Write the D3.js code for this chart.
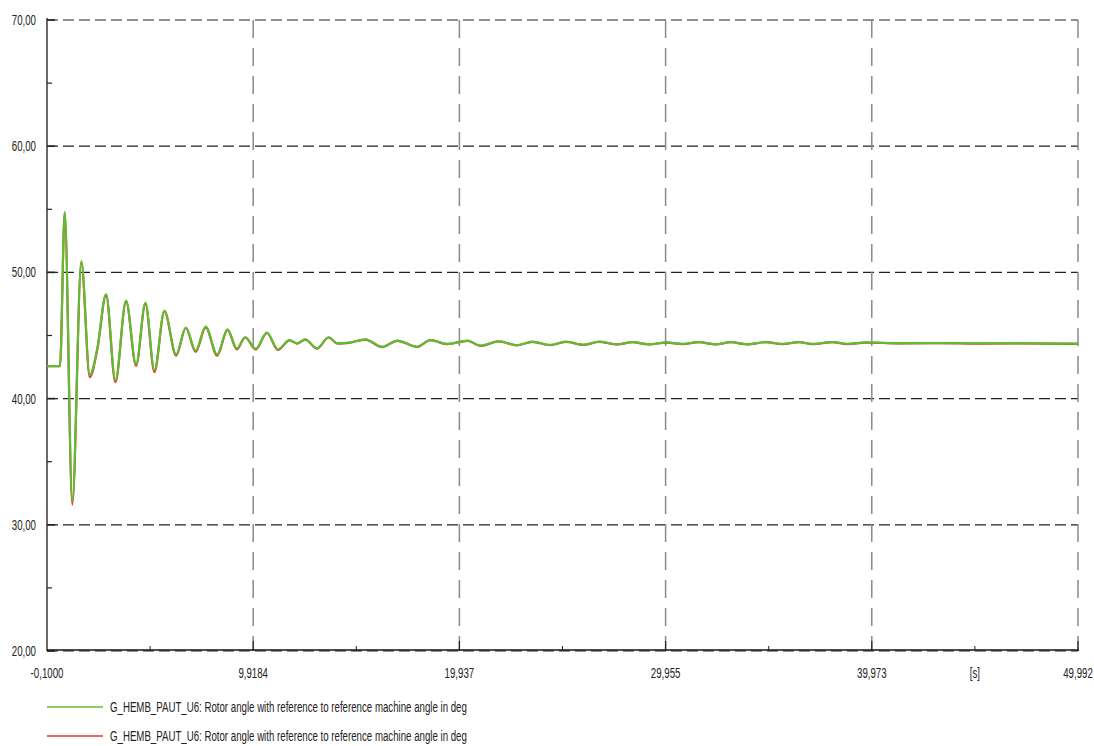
<!DOCTYPE html>
<html>
<head>
<meta charset="utf-8">
<script src="https://cdn.jsdelivr.net/npm/d3@7"></script>
<style>
  body { margin: 0; background: #fff; }
  text { font-family: "Liberation Sans", Arial, sans-serif; fill: #222; }
</style>
</head>
<body>
<div id="chart"></div>
<script>
// time in seconds
var times = [-0.1, 0.532, 0.761, 1.130, 1.568, 1.977, 2.346, 2.769, 3.222, 3.742,
  4.228, 4.681, 5.118, 5.605, 6.174, 6.645, 7.122, 7.608, 8.168, 8.669,
  9.126, 9.529, 10.04, 10.585, 11.12, 11.684, 12.044, 12.447, 13.016, 13.58,
  14.018, 14.587, 15.365, 16.178, 16.922, 17.88, 18.527, 19.339, 20.341, 20.958,
  21.848, 22.743, 23.473, 24.363, 25.092, 25.982, 26.712, 27.607, 28.336, 29.143,
  30.004, 30.768, 31.575, 32.387, 33.117, 33.929, 34.819, 35.631, 36.438, 37.09,
  38.063, 38.792, 39.682, 41.38, 43.33, 45.27, 47.22, 49.992];

var greenVals = [42.58, 42.58, 54.8, 31.83, 50.9, 41.87, 44.0, 48.29, 41.47, 47.76,
  42.72, 47.6, 42.27, 46.97, 43.51, 45.62, 43.8, 45.70, 43.5, 45.49,
  43.98, 44.86, 43.95, 45.22, 43.91, 44.64, 44.38, 44.70, 43.98, 44.86,
  44.38, 44.43, 44.70, 44.11, 44.59, 44.11, 44.64, 44.33, 44.59, 44.19,
  44.54, 44.23, 44.51, 44.25, 44.51, 44.27, 44.51, 44.30, 44.48, 44.30,
  44.45, 44.33, 44.48, 44.30, 44.48, 44.30, 44.48, 44.33, 44.48, 44.33,
  44.48, 44.33, 44.45, 44.38, 44.40, 44.37, 44.38, 44.35];

var redVals = [42.58, 42.58, 54.7, 31.6, 50.8, 41.7, 43.9, 48.2, 41.3, 47.7,
  42.6, 47.5, 42.1, 46.9, 43.4, 45.6, 43.7, 45.65, 43.4, 45.45,
  43.9, 44.85, 43.9, 45.2, 43.85, 44.62, 44.36, 44.68, 43.95, 44.84,
  44.36, 44.42, 44.68, 44.09, 44.58, 44.10, 44.63, 44.32, 44.58, 44.18,
  44.53, 44.22, 44.50, 44.24, 44.50, 44.26, 44.50, 44.29, 44.47, 44.29,
  44.44, 44.32, 44.47, 44.29, 44.47, 44.29, 44.47, 44.32, 44.47, 44.32,
  44.47, 44.32, 44.44, 44.37, 44.39, 44.36, 44.37, 44.34];

var xTicks = [-0.1, 9.9184, 19.937, 29.955, 39.973, 49.992];
var xTickLabels = ["-0,1000", "9,9184", "19,937", "29,955", "39,973", "49,992"];
var yTicks = [20, 30, 40, 50, 60, 70];
var yTickLabels = ["20,00", "30,00", "40,00", "50,00", "60,00", "70,00"];

var seriesNames = [
  "G_HEMB_PAUT_U6: Rotor angle with reference to reference machine angle in deg",
  "G_HEMB_PAUT_U6: Rotor angle with reference to reference machine angle in deg"
];
var seriesColors = ["#5cbf32", "#e8323a"];

var width = 1094,
    height = 746;
var narrow = 0.625; // the original font is a condensed one
var fontSize = 15.5;

var svg = d3.select("#chart").append("svg")
    .attr("width", width)
    .attr("height", height);

var x = d3.scaleLinear().domain([-0.1, 49.992]).range([47, 1078]);
var y = d3.scaleLinear().domain([20, 70]).range([651, 20]);

// minor ticks sit halfway between majors
var xMinor = xTicks.slice(1).map(function(d, i) { return (d + xTicks[i]) / 2; });
var yMinor = yTicks.slice(1).map(function(d, i) { return (d + yTicks[i]) / 2; });

function placeText(px, py) {
  return "translate(" + px + "," + py + ") scale(" + narrow + ",1)";
}

// grid
svg.selectAll(".hgrid")
    .data(yTicks)
    .enter().append("line")
    .attr("class", "hgrid")
    .attr("x1", x(-0.1)).attr("x2", x(49.992))
    .attr("y1", function(d) { return y(d); })
    .attr("y2", function(d) { return y(d); })
    .attr("stroke", "#222")
    .attr("stroke-width", 1.2)
    .attr("stroke-dasharray", "11,5");

svg.selectAll(".vgrid")
    .data(xTicks.slice(1))
    .enter().append("line")
    .attr("class", "vgrid")
    .attr("x1", function(d) { return x(d); })
    .attr("x2", function(d) { return x(d); })
    .attr("y1", y(70)).attr("y2", y(20))
    .attr("stroke", "#8a8a8a")
    .attr("stroke-width", 1.5)
    .attr("stroke-dasharray", "18,10");

// axis lines
svg.append("line")
    .attr("x1", x(-0.1)).attr("x2", x(-0.1))
    .attr("y1", y(70) - 2).attr("y2", y(20))
    .attr("stroke", "#444").attr("stroke-width", 1.6);

svg.append("line")
    .attr("x1", x(-0.1)).attr("x2", x(49.992) + 1)
    .attr("y1", y(20) - 1).attr("y2", y(20) - 1)
    .attr("stroke", "#111").attr("stroke-width", 1.6);

// ticks
svg.selectAll(".xmaj")
    .data(xTicks.slice(1))
    .enter().append("line")
    .attr("x1", function(d) { return x(d); })
    .attr("x2", function(d) { return x(d); })
    .attr("y1", y(20) - 10).attr("y2", y(20))
    .attr("stroke", "#222").attr("stroke-width", 1.2);

svg.selectAll(".xmin")
    .data(xMinor)
    .enter().append("line")
    .attr("x1", function(d) { return x(d); })
    .attr("x2", function(d) { return x(d); })
    .attr("y1", y(20) - 5).attr("y2", y(20))
    .attr("stroke", "#222").attr("stroke-width", 1);

svg.selectAll(".ymaj")
    .data(yTicks)
    .enter().append("line")
    .attr("x1", x(-0.1)).attr("x2", x(-0.1) + 8)
    .attr("y1", function(d) { return y(d); })
    .attr("y2", function(d) { return y(d); })
    .attr("stroke", "#222").attr("stroke-width", 1.6);

svg.selectAll(".ymin")
    .data(yMinor)
    .enter().append("line")
    .attr("x1", x(-0.1)).attr("x2", x(-0.1) + 5)
    .attr("y1", function(d) { return y(d); })
    .attr("y2", function(d) { return y(d); })
    .attr("stroke", "#222").attr("stroke-width", 1.2);

// tick labels
svg.selectAll(".ylab")
    .data(yTicks)
    .enter().append("text")
    .attr("transform", function(d) { return placeText(36, y(d) + 5); })
    .attr("text-anchor", "end")
    .attr("font-size", fontSize)
    .text(function(d, i) { return yTickLabels[i]; });

svg.selectAll(".xlab")
    .data(xTicks)
    .enter().append("text")
    .attr("transform", function(d) { return placeText(x(d), 678); })
    .attr("text-anchor", "middle")
    .attr("font-size", fontSize)
    .text(function(d, i) { return xTickLabels[i]; });

svg.append("text")
    .attr("transform", placeText(x(xMinor[4]), 678))
    .attr("text-anchor", "middle")
    .attr("font-size", fontSize)
    .text("[s]");

// curves
var line = d3.line()
    .x(function(d) { return x(d[0]); })
    .y(function(d) { return y(d[1]); })
    .curve(d3.curveMonotoneX);

var redData = times.map(function(t, i) { return [t, redVals[i]]; });
var greenData = times.map(function(t, i) { return [t, greenVals[i]]; });

svg.append("path")
    .datum(redData)
    .attr("d", line)
    .attr("fill", "none")
    .attr("stroke", seriesColors[1])
    .attr("stroke-width", 2.2);

svg.append("path")
    .datum(greenData)
    .attr("d", line)
    .attr("fill", "none")
    .attr("stroke", seriesColors[0])
    .attr("stroke-width", 2.2);

// legend
var legend = svg.selectAll(".legend")
    .data(seriesNames)
    .enter().append("g")
    .attr("class", "legend")
    .attr("transform", function(d, i) { return "translate(47," + (707 + i * 29) + ")"; });

legend.append("line")
    .attr("x1", 0).attr("x2", 56)
    .attr("stroke", function(d, i) { return seriesColors[i]; })
    .attr("stroke-width", 1.5);

legend.append("text")
    .attr("transform", placeText(63, 5))
    .attr("font-size", fontSize)
    .attr("fill", "#333")
    .text(function(d) { return d; });
</script>
</body>
</html>
